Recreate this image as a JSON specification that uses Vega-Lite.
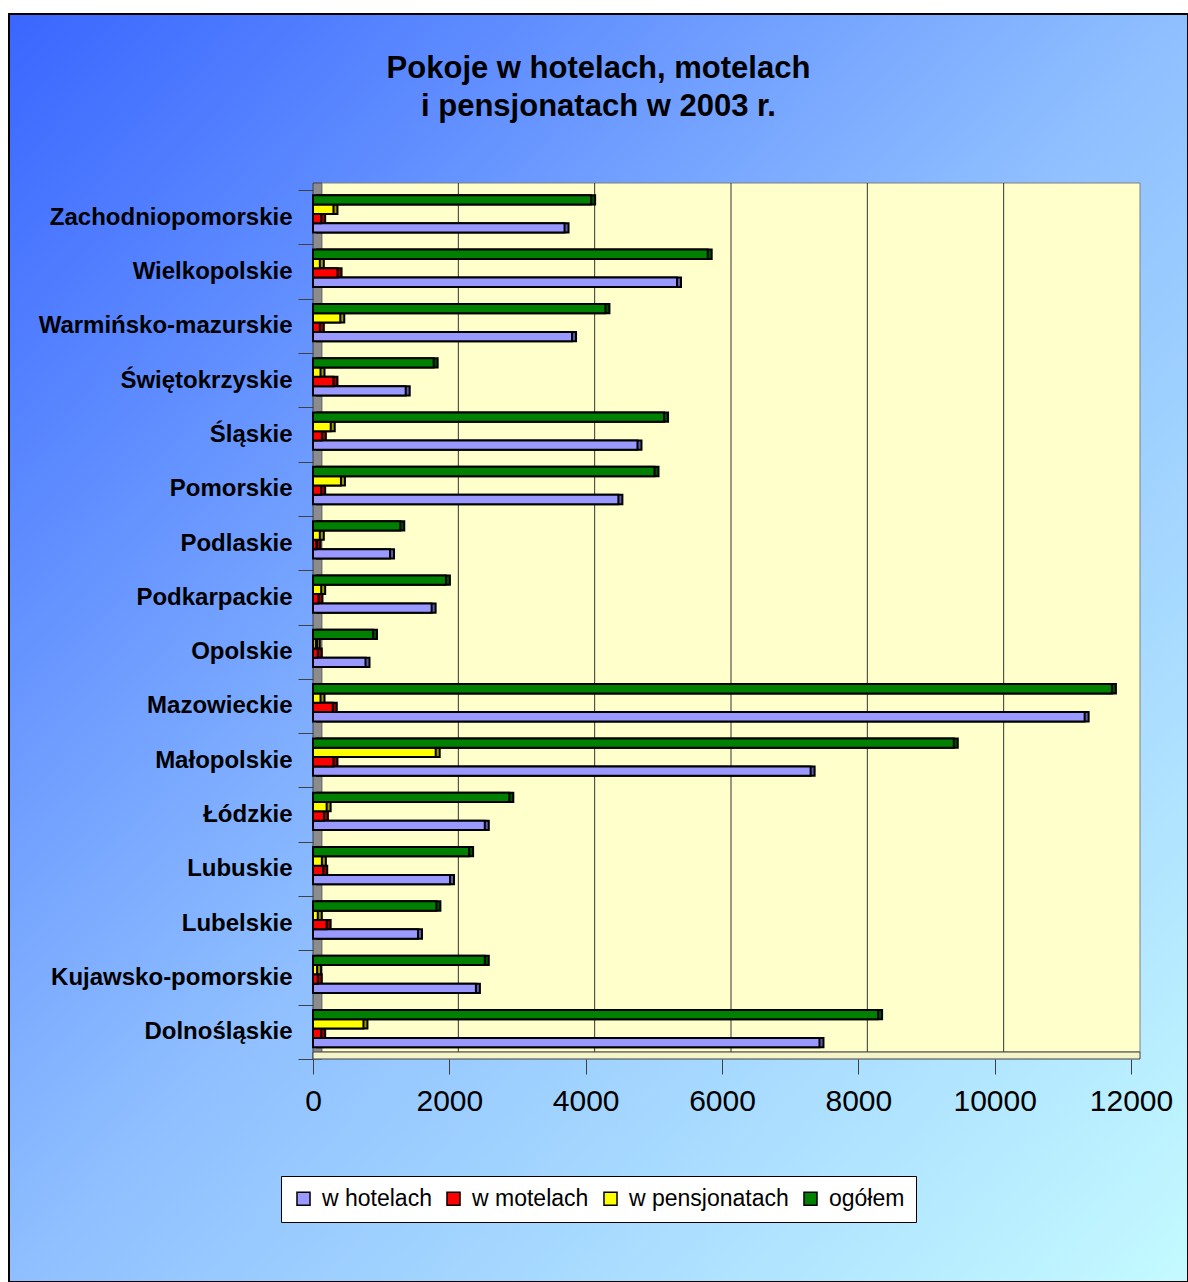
{
  "$schema": "https://vega.github.io/schema/vega-lite/v6.json",
  "width": 1179,
  "height": 1268,
  "autosize": {"type": "none"},
  "padding": {"left": 9, "top": 14, "right": 0, "bottom": 0},
  "background": "white",
  "config": {
    "font": "Liberation Sans",
    "view": {"stroke": null},
    "axis": {"zindex": 2},
    "axisX": {"labelFlush": false, "labelOverlap": false, "labelBound": false}
  },
  "title": {
    "text": ["Pokoje w hotelach, motelach", "i pensjonatach w 2003 r."],
    "font": "Liberation Sans",
    "fontSize": 31,
    "fontWeight": "bold",
    "color": "black",
    "anchor": "middle",
    "lineHeight": 38,
    "offset": -121
  },
  "datasets": {
    "rooms": [
      {"region": "Zachodniopomorskie", "type": "w hotelach", "rooms": 3690},
      {"region": "Zachodniopomorskie", "type": "w motelach", "rooms": 120},
      {"region": "Zachodniopomorskie", "type": "w pensjonatach", "rooms": 300},
      {"region": "Zachodniopomorskie", "type": "ogółem", "rooms": 4080},
      {"region": "Wielkopolskie", "type": "w hotelach", "rooms": 5340},
      {"region": "Wielkopolskie", "type": "w motelach", "rooms": 360},
      {"region": "Wielkopolskie", "type": "w pensjonatach", "rooms": 100},
      {"region": "Wielkopolskie", "type": "ogółem", "rooms": 5790},
      {"region": "Warmińsko-mazurskie", "type": "w hotelach", "rooms": 3800},
      {"region": "Warmińsko-mazurskie", "type": "w motelach", "rooms": 100},
      {"region": "Warmińsko-mazurskie", "type": "w pensjonatach", "rooms": 400},
      {"region": "Warmińsko-mazurskie", "type": "ogółem", "rooms": 4290},
      {"region": "Świętokrzyskie", "type": "w hotelach", "rooms": 1360},
      {"region": "Świętokrzyskie", "type": "w motelach", "rooms": 300},
      {"region": "Świętokrzyskie", "type": "w pensjonatach", "rooms": 110},
      {"region": "Świętokrzyskie", "type": "ogółem", "rooms": 1770},
      {"region": "Śląskie", "type": "w hotelach", "rooms": 4760},
      {"region": "Śląskie", "type": "w motelach", "rooms": 130},
      {"region": "Śląskie", "type": "w pensjonatach", "rooms": 260},
      {"region": "Śląskie", "type": "ogółem", "rooms": 5150},
      {"region": "Pomorskie", "type": "w hotelach", "rooms": 4480},
      {"region": "Pomorskie", "type": "w motelach", "rooms": 120},
      {"region": "Pomorskie", "type": "w pensjonatach", "rooms": 410},
      {"region": "Pomorskie", "type": "ogółem", "rooms": 5010},
      {"region": "Podlaskie", "type": "w hotelach", "rooms": 1130},
      {"region": "Podlaskie", "type": "w motelach", "rooms": 50},
      {"region": "Podlaskie", "type": "w pensjonatach", "rooms": 100},
      {"region": "Podlaskie", "type": "ogółem", "rooms": 1280},
      {"region": "Podkarpackie", "type": "w hotelach", "rooms": 1740},
      {"region": "Podkarpackie", "type": "w motelach", "rooms": 80},
      {"region": "Podkarpackie", "type": "w pensjonatach", "rooms": 120},
      {"region": "Podkarpackie", "type": "ogółem", "rooms": 1950},
      {"region": "Opolskie", "type": "w hotelach", "rooms": 770},
      {"region": "Opolskie", "type": "w motelach", "rooms": 70},
      {"region": "Opolskie", "type": "w pensjonatach", "rooms": 40},
      {"region": "Opolskie", "type": "ogółem", "rooms": 880},
      {"region": "Mazowieckie", "type": "w hotelach", "rooms": 11320},
      {"region": "Mazowieckie", "type": "w motelach", "rooms": 290},
      {"region": "Mazowieckie", "type": "w pensjonatach", "rooms": 110},
      {"region": "Mazowieckie", "type": "ogółem", "rooms": 11720},
      {"region": "Małopolskie", "type": "w hotelach", "rooms": 7300},
      {"region": "Małopolskie", "type": "w motelach", "rooms": 300},
      {"region": "Małopolskie", "type": "w pensjonatach", "rooms": 1800},
      {"region": "Małopolskie", "type": "ogółem", "rooms": 9400},
      {"region": "Łódzkie", "type": "w hotelach", "rooms": 2520},
      {"region": "Łódzkie", "type": "w motelach", "rooms": 160},
      {"region": "Łódzkie", "type": "w pensjonatach", "rooms": 200},
      {"region": "Łódzkie", "type": "ogółem", "rooms": 2880},
      {"region": "Lubuskie", "type": "w hotelach", "rooms": 2010},
      {"region": "Lubuskie", "type": "w motelach", "rooms": 150},
      {"region": "Lubuskie", "type": "w pensjonatach", "rooms": 130},
      {"region": "Lubuskie", "type": "ogółem", "rooms": 2290},
      {"region": "Lubelskie", "type": "w hotelach", "rooms": 1540},
      {"region": "Lubelskie", "type": "w motelach", "rooms": 200},
      {"region": "Lubelskie", "type": "w pensjonatach", "rooms": 70},
      {"region": "Lubelskie", "type": "ogółem", "rooms": 1810},
      {"region": "Kujawsko-pomorskie", "type": "w hotelach", "rooms": 2390},
      {"region": "Kujawsko-pomorskie", "type": "w motelach", "rooms": 70},
      {"region": "Kujawsko-pomorskie", "type": "w pensjonatach", "rooms": 60},
      {"region": "Kujawsko-pomorskie", "type": "ogółem", "rooms": 2520},
      {"region": "Dolnośląskie", "type": "w hotelach", "rooms": 7430},
      {"region": "Dolnośląskie", "type": "w motelach", "rooms": 120},
      {"region": "Dolnośląskie", "type": "w pensjonatach", "rooms": 740},
      {"region": "Dolnośląskie", "type": "ogółem", "rooms": 8290}
    ],
    "grid": [{"g": 2000}, {"g": 4000}, {"g": 6000}, {"g": 8000}, {"g": 10000}],
    "one": [{}]
  },
  "resolve": {"scale": {"y": "independent"}},
  "layer": [
    {
      "layer": [
        {
          "data": {"name": "one"},
          "mark": {
            "type": "rect",
            "stroke": "black",
            "strokeWidth": 2,
            "fill": {
              "gradient": "linear", "x1": 0, "y1": 0, "x2": 1, "y2": 1,
              "stops": [
                {"offset": 0, "color": "#3a66ff"},
                {"offset": 0.5, "color": "#8fbfff"},
                {"offset": 1, "color": "#c4faff"}
              ]
            }
          },
          "encoding": {}
        },
        {
          "data": {"name": "one"},
          "mark": {"type": "rect", "fill": "#8c8c8c", "stroke": "#404040", "strokeWidth": 1, "x2Offset": 9, "y2Offset": -7},
          "encoding": {
            "x": {"datum": 0, "type": "quantitative", "scale": {"domain": [0, 12000], "range": [304, 1122], "nice": false, "zero": false}, "title": null},
            "x2": {"datum": 0},
            "y": {"datum": 0, "type": "quantitative", "scale": {"domain": [0, 1], "range": [1045, 176], "nice": false, "zero": false}, "axis": null},
            "y2": {"datum": 1}
          }
        },
        {
          "data": {"name": "one"},
          "mark": {"type": "rect", "fill": "#ffffcc", "stroke": "#808080", "strokeWidth": 1, "xOffset": 9, "x2Offset": 9, "yOffset": -7, "y2Offset": -7},
          "encoding": {
            "x": {"datum": 0, "type": "quantitative", "scale": {"domain": [0, 12000], "range": [304, 1122], "nice": false, "zero": false}, "title": null},
            "x2": {"datum": 12000},
            "y": {"datum": 0, "type": "quantitative", "scale": {"domain": [0, 1], "range": [1045, 176], "nice": false, "zero": false}, "axis": null},
            "y2": {"datum": 1}
          }
        },
        {
          "data": {"name": "grid"},
          "mark": {"type": "rule", "color": "#333333", "strokeWidth": 1, "xOffset": 9, "yOffset": -7, "y2Offset": -7},
          "encoding": {
            "x": {"field": "g", "type": "quantitative", "scale": {"domain": [0, 12000], "range": [304, 1122], "nice": false, "zero": false}, "title": null},
            "y": {"datum": 0, "type": "quantitative", "scale": {"domain": [0, 1], "range": [1045, 176], "nice": false, "zero": false}, "axis": null},
            "y2": {"datum": 1}
          }
        },
        {
          "data": {"name": "one"},
          "mark": {"type": "rect", "fill": "#f4f4c8", "stroke": "#404040", "strokeWidth": 1, "x2Offset": 9, "y2Offset": -7},
          "encoding": {
            "x": {"datum": 0, "type": "quantitative", "scale": {"domain": [0, 12000], "range": [304, 1122], "nice": false, "zero": false}, "title": null},
            "x2": {"datum": 12000},
            "y": {"datum": 0, "type": "quantitative", "scale": {"domain": [0, 1], "range": [1045, 176], "nice": false, "zero": false}, "axis": null},
            "y2": {"datum": 0}
          }
        }
      ]
    },
    {
      "data": {"name": "rooms"},
      "resolve": {"scale": {"color": "independent"}, "legend": {"color": "independent"}},
      "layer": [
        {
          "mark": {"type": "bar", "stroke": "black", "strokeWidth": 2, "xOffset": 4, "x2Offset": 4, "yOffset": -4},
          "encoding": {
            "y": {
              "field": "region", "type": "nominal",
              "sort": ["Zachodniopomorskie", "Wielkopolskie", "Warmińsko-mazurskie", "Świętokrzyskie", "Śląskie", "Pomorskie", "Podlaskie", "Podkarpackie", "Opolskie", "Mazowieckie", "Małopolskie", "Łódzkie", "Lubuskie", "Lubelskie", "Kujawsko-pomorskie", "Dolnośląskie"],
              "scale": {"range": [176, 1045], "paddingInner": 0, "paddingOuter": 0},
              "title": null
            },
            "yOffset": {
              "field": "type", "type": "nominal",
              "sort": ["ogółem", "w pensjonatach", "w motelach", "w hotelach"],
              "scale": {"paddingInner": 0, "paddingOuter": 0.91, "align": 0.31}
            },
            "x": {"field": "rooms", "type": "quantitative", "scale": {"domain": [0, 12000], "range": [304, 1122], "nice": false, "zero": false}, "title": null},
            "color": {
              "field": "type", "type": "nominal",
              "scale": {"domain": ["w hotelach", "w motelach", "w pensjonatach", "ogółem"], "range": ["#5c5ca8", "#990000", "#9a9a00", "#004d00"]},
              "legend": null
            }
          }
        },
        {
          "mark": {"type": "bar", "stroke": "black", "strokeWidth": 2},
          "encoding": {
            "y": {
              "field": "region", "type": "nominal",
              "sort": ["Zachodniopomorskie", "Wielkopolskie", "Warmińsko-mazurskie", "Świętokrzyskie", "Śląskie", "Pomorskie", "Podlaskie", "Podkarpackie", "Opolskie", "Mazowieckie", "Małopolskie", "Łódzkie", "Lubuskie", "Lubelskie", "Kujawsko-pomorskie", "Dolnośląskie"],
              "scale": {"range": [176, 1045], "paddingInner": 0, "paddingOuter": 0},
              "title": null,
              "axis": {
                "offset": -304, "domain": false, "tickBand": "extent", "tickSize": 15, "tickColor": "#404040", "tickWidth": 1,
                "labelFont": "Liberation Sans", "labelFontSize": 24, "labelFontWeight": "bold", "labelColor": "black",
                "labelPadding": 6, "labelLimit": 400, "zindex": 2
              }
            },
            "yOffset": {
              "field": "type", "type": "nominal",
              "sort": ["ogółem", "w pensjonatach", "w motelach", "w hotelach"],
              "scale": {"paddingInner": 0, "paddingOuter": 0.91, "align": 0.31}
            },
            "x": {
              "field": "rooms", "type": "quantitative", "scale": {"domain": [0, 12000], "range": [304, 1122], "nice": false, "zero": false}, "title": null,
              "axis": {
                "values": [0, 2000, 4000, 6000, 8000, 10000, 12000], "format": "d", "offset": -223,
                "domain": false, "grid": false, "tickSize": 15, "tickColor": "#404040", "tickWidth": 1,
                "labelFont": "Liberation Sans", "labelFontSize": 30, "labelColor": "black", "labelPadding": 12, "zindex": 2
              }
            },
            "color": {
              "field": "type", "type": "nominal",
              "scale": {"domain": ["w hotelach", "w motelach", "w pensjonatach", "ogółem"], "range": ["#9999ff", "#ff0000", "#ffff00", "#008000"]},
              "legend": {
                "orient": "none", "legendX": 272, "legendY": 1162, "direction": "horizontal", "columns": 4,
                "title": null, "fillColor": "white", "strokeColor": "black", "padding": 11,
                "symbolType": "square", "symbolSize": 170, "symbolStrokeColor": "black", "symbolStrokeWidth": 1.5,
                "labelFont": "Liberation Sans", "labelFontSize": 23, "labelColor": "black", "labelOffset": 7,
                "columnPadding": 10, "labelLimit": 300
              }
            }
          }
        }
      ]
    }
  ]
}
